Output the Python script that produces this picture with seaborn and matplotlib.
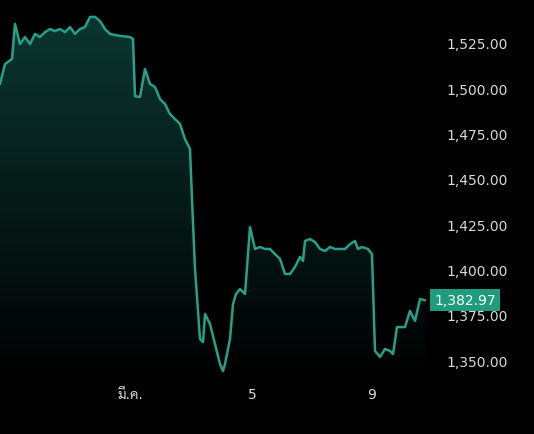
import matplotlib
matplotlib.use("Agg")
import matplotlib.pyplot as plt
import seaborn as sns
import numpy as np
import pandas as pd
from matplotlib.patches import Polygon
from matplotlib.colors import LinearSegmentedColormap

sns.set_style("dark")
plt.rcParams['font.family'] = ['DejaVu Sans', 'Sarabun', 'IBM Plex Sans Thai']

t = [0,5,12,15,20,25,30,35,40,45,50,55,60,65,70,75,80,85,90,95,100,105,110,120,130,133,135,140,145,150,155,160,165,170,175,180,185,190,192,195,200,203,205,210,215,220,223,225,230,233,236,240,245,250,255,260,265,270,275,280,285,290,295,300,303,305,310,315,320,325,330,335,340,345,350,355,358,362,368,372,375,380,385,390,393,397,405,410,415,420,425]
price = [1502.4,1513.4,1516.2,1535.5,1524.4,1528.3,1524.4,1530,1528.3,1531,1532.7,1531.6,1532.7,1531,1533.8,1530,1532.7,1533.8,1539.4,1539.4,1537.1,1532.7,1530,1528.9,1528.3,1527.2,1495.7,1495.2,1510.6,1502.4,1500.7,1494.1,1491.3,1485.8,1483,1480.3,1472,1466.5,1438.9,1400.2,1361.6,1359.9,1375.4,1369.9,1358.8,1347.8,1343.9,1347.8,1361.6,1380.9,1386.4,1389.2,1386.4,1423.4,1411.3,1412.4,1411.3,1411.3,1408.5,1405.8,1397.5,1397.5,1401.4,1406.9,1404.7,1415.7,1416.8,1415.1,1411.3,1410.2,1412.4,1411.3,1411.3,1411.3,1414,1415.7,1411.3,1412.4,1411.3,1408.5,1355,1351.7,1356.1,1355,1353.3,1368.2,1368.2,1377.1,1371.6,1383.7,1382.97]
xtick_pos = [130, 252, 372]
xtick_labels = ["มี.ค.", "5", "9"]
ytick_vals = [1350, 1375, 1400, 1425, 1450, 1475, 1500, 1525]
last_price = 1382.97

df = pd.DataFrame({"t": t, "price": price})
line_c = "#26a088"

fig = plt.figure(figsize=(5.34, 4.35), dpi=100, facecolor="black")
ax = fig.add_axes([0, 50/435, 430/534, 385/435])
ax.set_facecolor("black")
ymin = 1525 - 341*0.552
ymax = 1525 + 44*0.552
ax.set_xlim(0, 430)
ax.set_ylim(ymin, ymax)

sns.lineplot(data=df, x="t", y="price", ax=ax, color=line_c, lw=1.8)
grad = np.linspace(1, 0, 256).reshape(-1, 1)
cmap = LinearSegmentedColormap.from_list("g", ["#000000", "#0b3630"])
im = ax.imshow(grad, cmap=cmap, aspect="auto", extent=[0, 430, ymin, max(price)], origin="upper", zorder=0)
poly = Polygon(list(zip(t, price)) + [(t[-1], ymin), (t[0], ymin)], closed=True, transform=ax.transData)
im.set_clip_path(poly)

for s in ax.spines.values():
    s.set_visible(False)
ax.grid(False)
ax.set_xlabel(""); ax.set_ylabel("")
ax.yaxis.tick_right()
ax.set_yticks(ytick_vals)
ax.set_yticklabels([f"{v:,.2f}" for v in ytick_vals], color="#d8d8d8", fontsize=10)
ax.tick_params(axis="y", length=0, pad=12)
ax.set_xticks(xtick_pos)
ax.set_xticklabels(xtick_labels, color="#d8d8d8", fontsize=10)
ax.tick_params(axis="x", length=0, pad=2)
ax.text(434, last_price, f"{last_price:,.2f}", transform=ax.transData, clip_on=False,
        color="white", fontsize=10, va="center", ha="left",
        bbox=dict(boxstyle="square,pad=0.3", fc="#1f9c7e", ec="none"))

fig.savefig("out.png", dpi=100, facecolor="black")
